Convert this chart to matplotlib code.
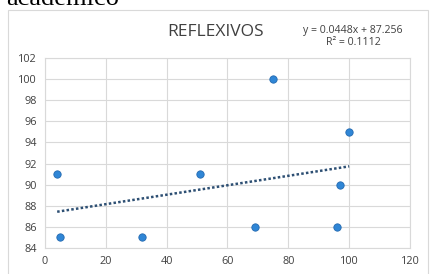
import numpy as np
import matplotlib
matplotlib.use("Agg")
import matplotlib.pyplot as plt
from matplotlib.patches import Rectangle

# data
x_vals = [4, 5, 32, 51, 75, 100, 69, 96, 97]
y_vals = [91, 85, 85, 91, 100, 95, 86, 86, 90]
x_ticks = [0, 20, 40, 60, 80, 100, 120]
y_ticks = [84, 86, 88, 90, 92, 94, 96, 98, 100, 102]
title = "REFLEXIVOS"
eq_text = "y = 0.0448x + 87.256\nR² = 0.1112"
header = "académico"

plt.rcParams['font.family'] = ['Open Sans', 'DejaVu Sans']

fig = plt.figure(figsize=(4.3, 2.74), dpi=100)
fig.patch.set_facecolor('white')

# chart frame (excel-like border)
fig.patches.append(Rectangle((8 / 430, -0.05), 420 / 430, 1 - 10 / 274 + 0.05,
                             transform=fig.transFigure, fill=False,
                             edgecolor='#d9d9d9', linewidth=0.8))

# header text cut off at top
fig.text(6 / 430, 1 - 5 / 274, header, family='Liberation Serif', fontsize=19,
         color='black', ha='left', va='baseline')

ax = fig.add_axes([45 / 430, 1 - 248 / 274, 365 / 430, 190 / 274])

# linear trend line
slope, intercept = np.polyfit(x_vals, y_vals, 1)
xs = np.array([min(x_vals), max(x_vals)])
ax.plot(xs, slope * xs + intercept, linestyle=(0, (1, 0.9)), color='#2d4f73',
        linewidth=1.8, zorder=2)

ax.scatter(x_vals, y_vals, s=28, color='#2f86d6', edgecolor='#2369b0',
           linewidth=0.6, zorder=3)

ax.set_xlim(0, 120)
ax.set_ylim(84, 102)
ax.set_xticks(x_ticks)
ax.set_yticks(y_ticks)
ax.grid(True, color='#d9d9d9', linewidth=0.8)
ax.set_axisbelow(True)
for s in ax.spines.values():
    s.set_color('#d9d9d9')
    s.set_linewidth(0.8)
ax.tick_params(length=0, labelsize=7.8, labelcolor='#404040', pad=6)

fig.text(216 / 430, 1 - 32 / 274, title, fontsize=12.5, color='#404040',
         ha='center', va='center')
fig.text(353 / 430, 1 - 36.5 / 274, eq_text, fontsize=7.6, color='#404040',
         ha='center', va='center', linespacing=1.2)

fig.savefig("out.png", dpi=100)
